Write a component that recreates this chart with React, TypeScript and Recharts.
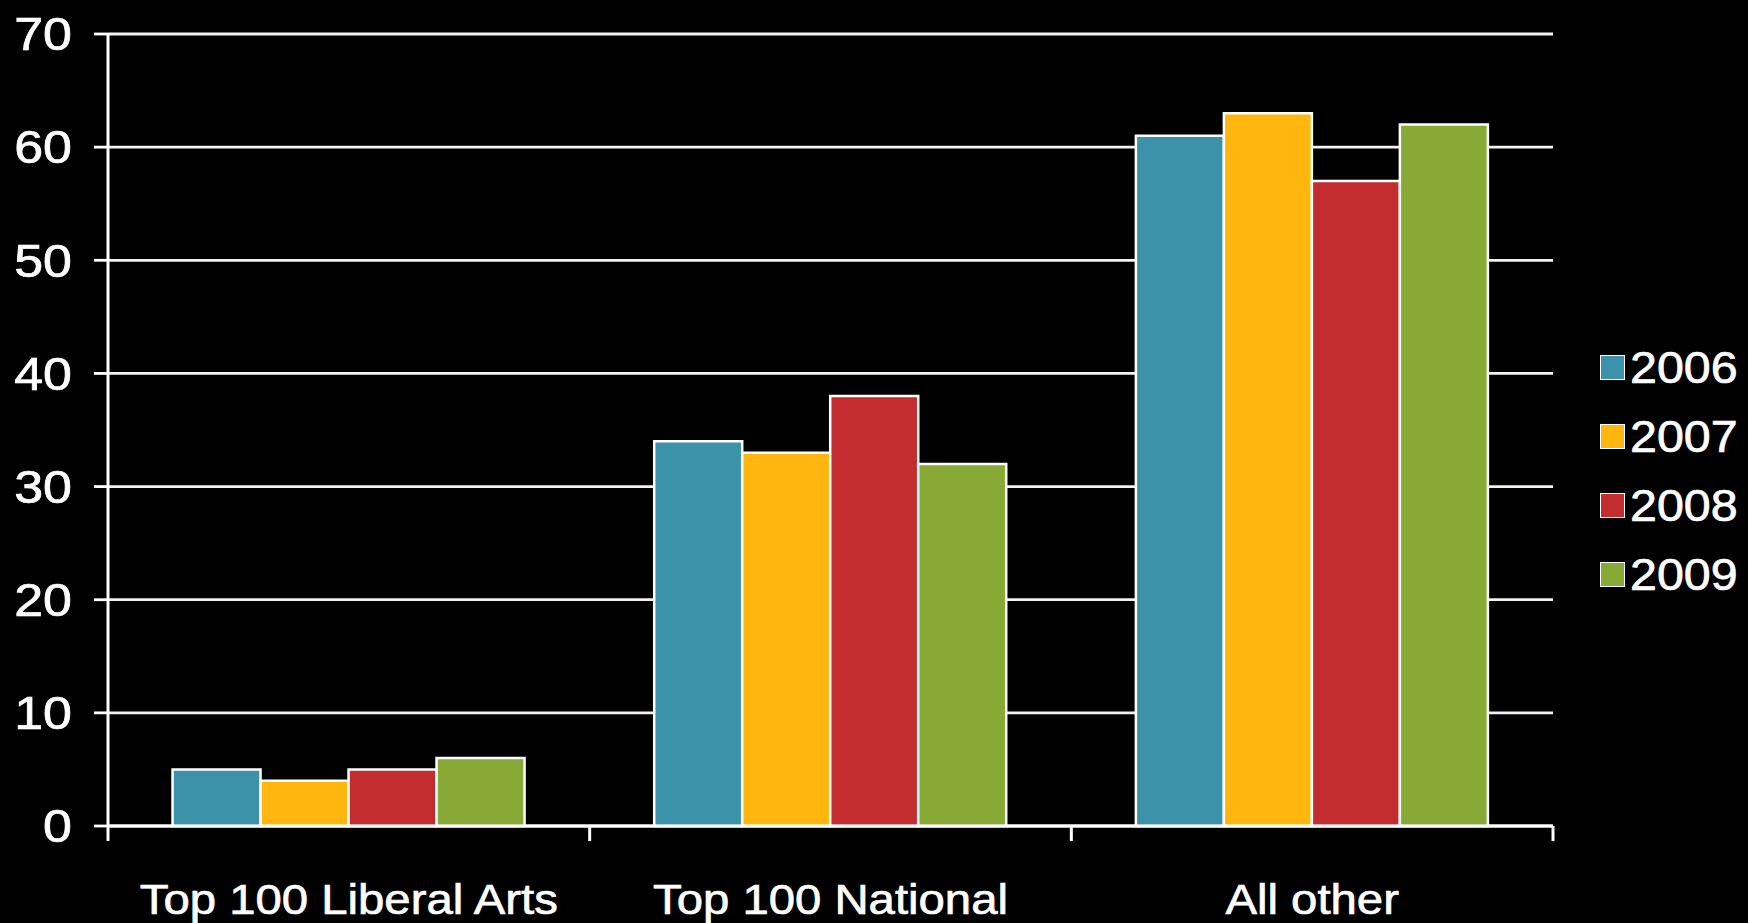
import React from 'react';
import { BarChart, Bar, XAxis, YAxis, CartesianGrid, Legend } from 'recharts';

const categories = ['Top 100 Liberal Arts', 'Top 100 National', 'All other'];
const years = ['2006', '2007', '2008', '2009'];
const values2006 = [5, 34, 61];
const values2007 = [4, 33, 63];
const values2008 = [5, 38, 57];
const values2009 = [6, 32, 62];
const colors = ['#3C92A8', '#FFB60F', '#C32D2F', '#86AA35'];
const yTicks = [0, 10, 20, 30, 40, 50, 60, 70];
const boundaryTicks = [0, 0.5, 1, 1.5, 2, 2.5, 3];

const seriesValues = [values2006, values2007, values2008, values2009];

const data = categories.map((c, i) => {
  const row: Record<string, any> = { name: c, pos: i + 0.5 };
  years.forEach((y, k) => {
    row[y] = seriesValues[k][i];
  });
  return row;
});

const FONT = '"Liberation Sans", Arial, sans-serif';
const SX = 1.1;

const BottomTick = (props: any) => {
  const { x, y, payload } = props;
  const v = payload.value;
  if (Number.isInteger(v)) {
    return <line x1={x} x2={x} y1={y} y2={y + 15} stroke="#ffffff" strokeWidth={3} />;
  }
  const idx = Math.floor(v);
  return (
    <g transform={`translate(${x},${y + 88}) scale(${SX},1)`}>
      <text
        x={0}
        y={0}
        textAnchor="middle"
        fill="#ffffff"
        stroke="#ffffff"
        strokeWidth={0.7}
        fontSize={43}
        fontFamily={FONT}
      >
        {categories[idx]}
      </text>
    </g>
  );
};

const LeftTick = (props: any) => {
  const { x, y, payload } = props;
  return (
    <g transform={`translate(${x},${y}) scale(1.13,1)`}>
      <text
        x={0}
        y={0}
        dy="0.355em"
        textAnchor="end"
        fill="#ffffff"
        stroke="#ffffff"
        strokeWidth={0.7}
        fontSize={46}
        fontFamily={FONT}
      >
        {payload.value}
      </text>
    </g>
  );
};

const LegendContent = () => (
  <div style={{ fontFamily: FONT }}>
    {years.map((y, k) => (
      <div key={y} style={{ display: 'flex', alignItems: 'center', height: 69 }}>
        <div
          style={{
            width: 23,
            height: 23,
            background: colors[k],
            border: '1.5px solid #ffffff',
            marginRight: 5,
            flexShrink: 0,
          }}
        />
        <span
          style={{
            color: '#ffffff',
            fontSize: 44,
            lineHeight: '69px',
            display: 'inline-block',
            transform: `scale(${SX},1)`,
            transformOrigin: 'left center',
            WebkitTextStroke: '0.7px #ffffff',
          }}
        >
          {y}
        </span>
      </div>
    ))}
  </div>
);

export default function App() {
  return (
    <div style={{ position: 'absolute', left: 0, top: 0, width: 1748, height: 923, background: '#000000' }}>
      <BarChart
        width={1748}
        height={923}
        data={data}
        margin={{ top: 34, right: 195, bottom: 0, left: 0 }}
        barCategoryGap="13.4%"
        barGap={0}
      >
        <CartesianGrid vertical={false} stroke="#f2f2f2" strokeWidth={2.8} />
        <XAxis dataKey="name" xAxisId="cat" hide />
        <XAxis
          xAxisId="b"
          type="number"
          dataKey="pos"
          domain={[0, 3]}
          ticks={boundaryTicks}
          interval={0}
          height={97}
          tickLine={false}
          tickSize={0}
          tickMargin={0}
          axisLine={{ stroke: '#ffffff', strokeWidth: 3 }}
          tick={<BottomTick />}
        />
        <YAxis
          width={108}
          domain={[0, 70]}
          ticks={yTicks}
          interval={0}
          tickSize={14}
          tickMargin={22}
          axisLine={{ stroke: '#ffffff', strokeWidth: 3 }}
          tickLine={{ stroke: '#ffffff', strokeWidth: 2.8 }}
          tick={<LeftTick />}
        />
        <Legend
          layout="vertical"
          align="center"
          verticalAlign="middle"
          content={<LegendContent />}
          wrapperStyle={{ left: 1600, top: 333, width: 150 }}
        />
        {years.map((y, k) => (
          <Bar
            key={y}
            dataKey={y}
            xAxisId="cat"
            fill={colors[k]}
            stroke="#ffffff"
            strokeWidth={2.5}
            isAnimationActive={false}
          />
        ))}
      </BarChart>
    </div>
  );
}
